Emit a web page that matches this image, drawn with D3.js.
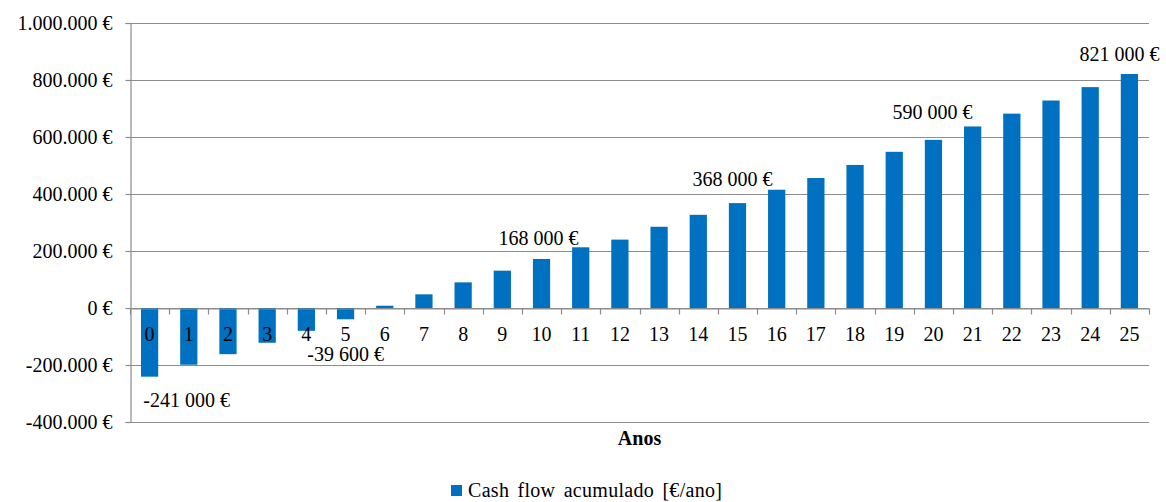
<!DOCTYPE html>
<html>
<head>
<meta charset="utf-8">
<script src="https://cdn.jsdelivr.net/npm/d3@7"></script>
<style>
  body { margin: 0; background: #fff; }
  svg text { font-family: "Liberation Serif", "Times New Roman", serif; fill: #000; }
</style>
</head>
<body>
<svg id="chart" width="1166" height="502"></svg>
<script>
// data
const years = ["0","1","2","3","4","5","6","7","8","9","10","11","12",
  "13","14","15","16","17","18","19","20","21","22","23","24","25"];
const cashFlow = [-241000, -199000, -162000, -122000, -80000, -39600, 8000,
  48000, 90000, 131000, 172000, 213000, 240000, 285000, 327000, 368000,
  415000, 456000, 502000, 548000, 590000, 637000, 682000, 728000, 775000, 821000];
const yTicks = [-400000, -200000, 0, 200000, 400000, 600000, 800000, 1000000];
const notes = [
  { year: "0", text: "-241 000 €", dx: 37, dy: 30 },
  { year: "5", text: "-39 600 €", dx: 0, dy: 42 },
  { year: "10", text: "168 000 €", dx: -3, dy: -14 },
  { year: "15", text: "368 000 €", dx: -5, dy: -17 },
  { year: "20", text: "590 000 €", dx: -1, dy: -21 },
  { year: "25", text: "821 000 €", dx: -10, dy: -13 }
];
const seriesName = "Cash flow acumulado [€/ano]";

const svg = d3.select("#chart");
const margin = { top: 23, right: 17, bottom: 80, left: 130 };
const width = +svg.attr("width");
const height = +svg.attr("height");
const barColor = "#0070c0";
const lineColor = "#8c8c8c";

const locale = d3.formatLocale({ decimal: ",", thousands: ".", grouping: [3], currency: ["", ""], minus: "-" });
const fmt = locale.format(",");

const x = d3.scaleBand()
  .domain(years)
  .range([margin.left, width - margin.right])
  .paddingInner(0.56)
  .paddingOuter(0.28);

const y = d3.scaleLinear()
  .domain([-400000, 1000000])
  .range([height - margin.bottom, margin.top]);

// grid
svg.append("g")
  .selectAll("line")
  .data(yTicks)
  .join("line")
  .attr("x1", margin.left).attr("x2", width - margin.right)
  .attr("y1", d => Math.round(y(d)) + 0.5).attr("y2", d => Math.round(y(d)) + 0.5)
  .attr("stroke", lineColor)
  .attr("stroke-width", 1.2);

// y axis
const yAxis = svg.append("g")
  .attr("transform", `translate(${margin.left + 0.5},0)`)
  .call(d3.axisLeft(y).tickValues(yTicks).tickSize(5).tickPadding(13).tickFormat(d => fmt(d) + " €"));
yAxis.select(".domain").attr("stroke", lineColor).attr("stroke-width", 1.2);
yAxis.selectAll(".tick line").attr("stroke", lineColor).attr("stroke-width", 1.2);
yAxis.selectAll("text").style("font-size", "20px").attr("fill", "#000");

// bars
svg.append("g")
  .selectAll("rect")
  .data(years)
  .join("rect")
  .attr("x", d => x(d))
  .attr("width", x.bandwidth())
  .attr("y", (d, i) => Math.min(y(cashFlow[i]), y(0)))
  .attr("height", (d, i) => Math.abs(y(cashFlow[i]) - y(0)))
  .attr("fill", barColor);

// x axis on zero line, ticks between categories
const y0 = Math.round(y(0)) + 0.5;
const half = (x.step() - x.bandwidth()) / 2;
const bounds = years.map(d => x(d) - half).concat([width - margin.right]);
svg.append("g")
  .selectAll("line")
  .data(bounds)
  .join("line")
  .attr("x1", d => Math.round(d) + 0.5).attr("x2", d => Math.round(d) + 0.5)
  .attr("y1", y0).attr("y2", y0 + 6)
  .attr("stroke", lineColor)
  .attr("stroke-width", 1.2);

const xAxis = svg.append("g")
  .attr("transform", `translate(0,${y0})`)
  .call(d3.axisBottom(x).tickSize(0).tickPadding(18));
xAxis.select(".domain").attr("stroke", lineColor).attr("stroke-width", 1.2);
xAxis.selectAll("text").style("font-size", "20px").attr("fill", "#000");

// value notes
svg.append("g")
  .selectAll("text")
  .data(notes)
  .join("text")
  .attr("x", d => x(d.year) + x.bandwidth() / 2 + d.dx)
  .attr("y", d => y(cashFlow[years.indexOf(d.year)]) + d.dy)
  .attr("text-anchor", "middle")
  .style("font-size", "20px")
  .text(d => d.text);

// axis title
svg.append("text")
  .attr("x", (margin.left + width - margin.right) / 2)
  .attr("y", 445)
  .attr("text-anchor", "middle")
  .style("font-size", "20px")
  .style("font-weight", "bold")
  .text("Anos");

// legend
const legend = svg.append("g").attr("transform", "translate(451,485)");
legend.append("rect").attr("width", 11).attr("height", 11).attr("fill", barColor);
legend.append("text")
  .attr("x", 17).attr("y", 12)
  .style("font-size", "20px")
  .style("word-spacing", "3px")
  .style("letter-spacing", "0.3px")
  .text(seriesName);
</script>
</body>
</html>
